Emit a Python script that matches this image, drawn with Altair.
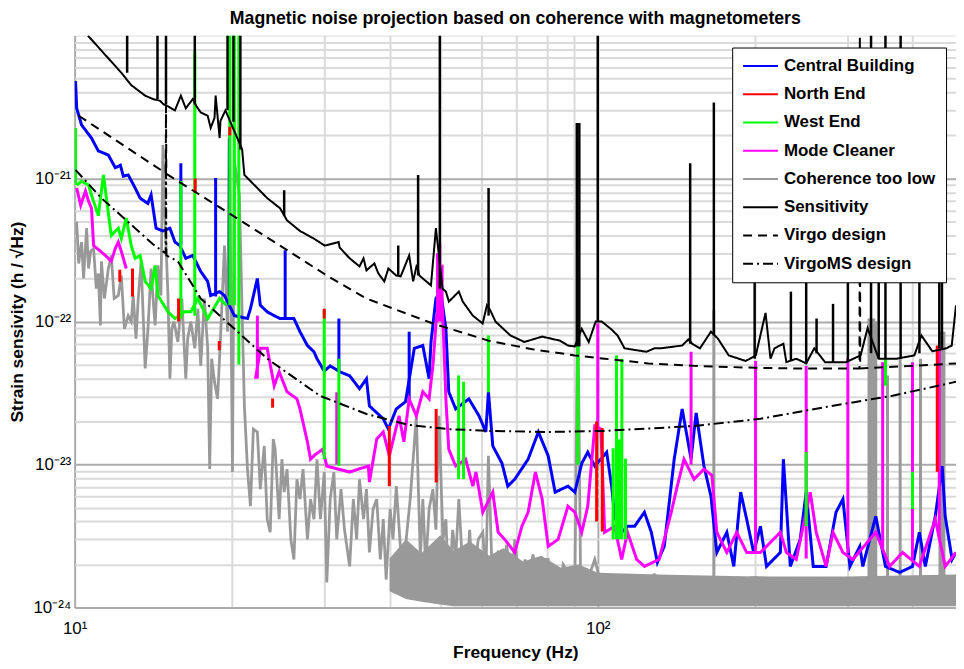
import altair as alt
import pandas as pd

FONT = "Liberation Sans"
SERIES = ["Central Building", "North End", "West End", "Mode Cleaner",
          "Coherence too low", "Sensitivity", "Virgo design", "VirgoMS design"]
COLORS = ["#0000ff", "#ff0000", "#00ff00", "#ff00ff",
          "#999999", "#000000", "#000000", "#000000"]
DASHES = [[1, 0], [1, 0], [1, 0], [1, 0], [1, 0], [1, 0], [9, 6], [10, 4, 2, 4]]

# ---------------- data (frequency Hz, strain 1/sqrt(Hz)); 1e-20 = top of the plot ----------------
sensitivity = [
    (10.6, 1.0e-20), (12.28, 5.5e-21), (12.83, 4.5e-21), (13.64, 3.8e-21),
    (14.12, 3.6e-21), (14.56, 3.5e-21), (14.8, 3.3e-21), (15.08, 3.2e-21), (15.55, 3.0e-21),
    (15.96, 3.8e-21), (16.31, 3.1e-21), (16.82, 3.6e-21), (17.1, 3.2e-21), (17.42, 2.9e-21),
    (17.96, 2.75e-21), (18.2, 2.26e-21), (18.51, 2.66e-21), (18.6, 3.8e-21), (18.93, 1.92e-21),
    (19.0, 2.53e-21), (19.42, 3.0e-21), (20.9, 1.6e-21), (21.11, 1.06e-21), (22.34, 8.6e-22),
    (23.34, 7.3e-22), (24.7, 6.2e-22), (25.47, 5.1e-22), (26.96, 4.3e-22), (28.67, 3.8e-22),
    (30.07, 3.4e-22), (31.97, 3.6e-22), (32.1, 3.3e-22), (33.55, 2.77e-22), (35.04, 2.43e-22),
    (35.66, 2.77e-22), (36.13, 2.28e-22), (37.41, 2.55e-22), (38.07, 2.17e-22), (39.08, 1.91e-22),
    (39.78, 2.35e-22), (41.19, 2.1e-22), (42.0, 2.07e-22), (43.6, 2.9e-22), (44.37, 1.91e-22),
    (45.1, 2.5e-22), (45.6, 2.1e-22), (47.99, 1.79e-22), (49.05, 4.5e-22), (50.5, 1.7e-22),
    (51.25, 1.62e-22), (51.93, 1.38e-22), (54.25, 1.62e-22), (55.2, 1.38e-22), (57.7, 1.1e-22),
    (60.25, 9.7e-23), (61.4, 1.3e-22), (62.3, 1.2e-22), (63.76, 1.0e-22), (68.08, 8.0e-23),
    (72.37, 7.2e-23), (78.31, 7.85e-23), (84.7, 7.35e-23), (87.7, 6.8e-23), (90.4, 6.7e-23),
    (93.2, 8.9e-23), (96.1, 7.2e-23), (99.1, 1.0e-22), (101.8, 1.0e-22), (105.9, 8.9e-23),
    (109.1, 8.0e-23), (112.5, 6.5e-23), (123.9, 6.15e-23), (128.3, 6.5e-23), (131.7, 6.5e-23),
    (145.0, 6.8e-23), (149.0, 7.5e-23), (151.5, 7.0e-23), (156.8, 6.5e-23), (164.6, 8.5e-23),
    (169.7, 7.6e-23), (178.0, 5.8e-23), (191.8, 5.3e-23), (200.5, 5.8e-23), (209.3, 1.15e-22),
    (213.9, 5.5e-23), (217.7, 6.5e-23), (226.4, 7.0e-23), (229.4, 5.2e-23), (239.6, 5.5e-23),
    (250.3, 5.1e-23), (259.3, 6.5e-23), (272.0, 5.2e-23), (298.2, 5.2e-23), (318.0, 5.8e-23),
    (328.0, 9.0e-23), (344.4, 5.5e-23), (372.4, 5.5e-23), (402.9, 5.8e-23), (415.6, 8.0e-23),
    (436.0, 6.2e-23), (463.5, 6.5e-23), (475.0, 6.8e-23), (484.0, 1.3e-22),
]
# spikes: (frequency, base, peak)
sensitivity_lines = [
    (12.6, 5.5e-21, 1e-20), (14.4, 3.6e-21, 1e-20), (14.95, 3.3e-21, 1e-20), (16.97, 3.3e-21, 1e-20),
    (19.6, 3.0e-21, 1e-20), (20.12, 2.5e-21, 1e-20), (20.74, 1.6e-21, 1e-20), (25.15, 5.5e-22, 8.3e-22),
    (41.55, 2.1e-22, 3.4e-22), (45.35, 2.1e-22, 1.06e-21), (49.9, 1.7e-22, 1e-20), (61.84, 1.1e-22, 8.6e-22),
    (91.2, 6.7e-23, 2.45e-21), (92.2, 6.7e-23, 2.45e-21), (100.0, 1.0e-22, 1e-20), (150.2, 7e-23, 1.28e-21),
    (166.7, 8e-23, 3.4e-21), (199.5, 5.5e-23, 3e-21), (234.0, 5.3e-23, 1.62e-22), (250.3, 5.1e-23, 4e-22),
    (262.0, 6e-23, 1.05e-22), (281.7, 5.2e-23, 1.33e-22), (300.7, 5.2e-23, 5e-22), (333.0, 6e-23, 1e-20),
    (344.4, 5.5e-23, 6e-22), (354.8, 5.5e-23, 1e-20), (379.3, 5.5e-23, 1e-20), (412.0, 6e-23, 5e-22),
    (449.7, 6.5e-23, 8e-22), (455.0, 6.5e-23, 3e-22),
]
virgo_design = [
    (10.18, 2.75e-21), (14.93, 1.09e-21), (14.95, 3.2e-21), (14.97, 1.08e-21), (20.74, 5.1e-22),
    (25.0, 3.3e-22), (30.34, 2.1e-22), (36.13, 1.45e-22), (40.0, 1.26e-22), (48.4, 9.7e-23),
    (61.84, 7.35e-23), (75.0, 6.4e-23), (90.4, 5.8e-23), (103.1, 5.5e-23), (125.0, 5.1e-23),
    (152.8, 4.9e-23), (200.0, 4.75e-23), (236.5, 4.7e-23), (316.5, 4.7e-23), (317.0, 1e-20),
    (317.5, 4.7e-23), (400.0, 4.9e-23), (484.0, 5.1e-23),
]
virgoms_design = [
    (10.04, 1.15e-21), (11.25, 7.3e-22), (13.05, 4.5e-22), (14.12, 3.47e-22), (14.93, 3.0e-22),
    (14.95, 1.5e-21), (14.97, 2.9e-22), (15.75, 2.64e-22), (17.42, 1.45e-22), (20.2, 8.9e-23),
    (23.34, 5.5e-23), (29.43, 3.03e-23), (36.13, 2.26e-23), (43.6, 1.89e-23), (51.93, 1.77e-23),
    (61.84, 1.72e-23), (80.4, 1.69e-23), (103.1, 1.72e-23), (152.8, 1.86e-23), (204.8, 2.09e-23),
    (273.0, 2.53e-23), (366.0, 3.03e-23), (484.0, 3.79e-23),
]
central_building = [
    (10.04, 4.8e-21), (10.09, 3.1e-21), (10.31, 2.37e-21), (10.77, 1.92e-21), (11.1, 1.56e-21),
    (11.6, 1.46e-21), (11.96, 1.19e-21), (12.23, 1.24e-21), (12.39, 1.04e-21), (12.66, 1.06e-21),
    (13.05, 8.6e-22), (13.34, 7.3e-22), (13.8, 6.7e-22), (14.0, 7.7e-22), (14.31, 4.5e-22),
    (14.75, 4.3e-22), (15.21, 4.5e-22), (15.55, 3.6e-22), (15.89, 3.4e-22), (16.31, 2.77e-22),
    (16.82, 2.9e-22), (17.42, 2.24e-22), (17.96, 1.91e-22), (18.2, 1.52e-22), (18.93, 1.62e-22),
    (19.34, 1.52e-22), (20.2, 1.1e-22), (21.4, 1.05e-22), (21.68, 1.23e-22), (22.35, 2.0e-22),
    (22.64, 1.3e-22), (23.34, 1.17e-22), (24.07, 1.1e-22), (24.7, 1.05e-22), (25.7, 1.05e-22),
    (26.25, 1.05e-22), (26.96, 8.5e-23), (27.86, 6.8e-23), (28.67, 6.15e-23), (29.06, 5.5e-23),
    (30.0, 4.5e-23), (30.8, 4.9e-23), (32.1, 4.46e-23), (33.55, 4.18e-23), (35.04, 3.39e-23),
    (36.13, 3.98e-23), (36.6, 2.57e-23), (38.9, 2.09e-23), (39.78, 1.77e-23), (41.2, 2.45e-23),
    (42.9, 2.75e-23), (44.6, 6.5e-23), (46.3, 6.8e-23), (47.6, 3.98e-23), (48.0, 7.2e-23),
    (49.05, 1.45e-22), (50.1, 1.62e-22), (51.25, 8.9e-23), (51.9, 3.23e-23), (53.5, 2.45e-23),
    (56.7, 2.88e-23), (59.3, 2.19e-23), (61.1, 1.69e-23), (61.8, 3.23e-23), (63.0, 1.35e-23),
    (65.6, 1.02e-23), (67.3, 7.06e-24), (69.4, 7.9e-24), (73.6, 1.09e-23), (77.0, 1.69e-23),
    (80.4, 1.15e-23), (82.9, 6.41e-24), (87.7, 7.06e-24), (90.4, 6.41e-24), (93.2, 1.02e-23),
    (95.7, 1.22e-23), (98.7, 9.76e-24), (104.0, 1.22e-23), (106.3, 7.06e-24), (107.7, 4.35e-24),
    (111.1, 3.36e-24), (114.0, 3.7e-24), (117.6, 3.7e-24), (122.8, 4.64e-24), (126.6, 3.36e-24),
    (130.0, 2.07e-24), (134.0, 2.68e-24), (140.0, 1.09e-23), (145.0, 2.45e-23), (150.8, 1.09e-23),
    (154.2, 2.3e-23), (159.6, 9.76e-24), (164.6, 6.0e-24), (168.9, 2.43e-24), (176.5, 3.36e-24),
    (182.0, 1.94e-24), (187.6, 6.41e-24), (192.6, 4.15e-24), (198.6, 2.43e-24), (204.7, 3.7e-24),
    (210.2, 1.94e-24), (223.4, 2.43e-24), (226.4, 1.09e-23), (233.4, 1.94e-24), (243.8, 3.0e-24),
    (250.3, 6.41e-24), (258.2, 1.94e-24), (273.2, 1.94e-24), (285.4, 4.64e-24), (294.2, 5.73e-24),
    (303.4, 1.94e-24), (317.0, 2.68e-24), (321.1, 1.94e-24), (340.0, 4.35e-24), (354.8, 1.94e-24),
    (377.6, 1.76e-24), (399.6, 1.94e-24), (411.9, 3.36e-24), (422.9, 1.94e-24), (441.8, 4.35e-24),
    (455.5, 9.76e-24), (461.5, 4.35e-24), (475.8, 2.17e-24), (484.0, 2.43e-24),
]
central_building_lines = [
    (15.96, 3.4e-22, 1.28e-21), (18.6, 1.5e-22, 1.01e-21), (19.76, 1.5e-22, 1.92e-21),
    (25.26, 1.05e-22, 3.15e-22), (32.0, 4.5e-23, 1.05e-22), (43.6, 2.75e-23, 8.5e-23),
]
mode_cleaner_low = [
    (10.09, 8.6e-22), (10.27, 6.5e-22), (10.49, 8.2e-22), (10.63, 6.95e-22), (10.77, 6.2e-22),
    (10.87, 3.4e-22), (11.45, 2.9e-22), (11.75, 2.64e-22), (11.96, 3.25e-22), (12.12, 3.6e-22),
    (12.28, 3.1e-22), (12.55, 2.35e-22),
]
mode_cleaner = [
    (22.16, 3.98e-23), (22.5, 5.5e-23), (22.64, 6.5e-23), (23.34, 6.5e-23), (24.07, 3.56e-23),
    (24.6, 4.46e-23), (25.47, 3.23e-23), (26.6, 2.88e-23), (26.96, 2.45e-23), (27.86, 1.44e-23),
    (28.25, 1.09e-23), (28.8, 1.17e-23), (29.8, 1.28e-23), (30.34, 9.76e-24), (33.55, 8.86e-24),
    (34.9, 9.3e-24), (36.44, 9.76e-24), (36.6, 7.54e-24), (37.8, 1.51e-23), (38.9, 1.69e-23),
    (39.95, 1.15e-23), (41.7, 2.19e-23), (42.6, 1.44e-23), (43.6, 2.88e-23), (45.0, 2.19e-23),
    (46.3, 3.23e-23), (47.6, 2.88e-23), (48.4, 4.9e-23), (49.2, 1.1e-22), (50.5, 1.2e-22),
    (51.25, 2.88e-23), (51.9, 1.28e-23), (53.5, 9.76e-24), (55.9, 1.09e-23), (57.7, 7.06e-24),
    (58.5, 8.86e-24), (60.3, 4.64e-24), (63.0, 6.41e-24), (64.5, 3.36e-24), (66.4, 3.0e-24),
    (69.4, 2.43e-24), (71.6, 3.7e-24), (73.6, 4.64e-24), (76.0, 8.86e-24), (78.3, 5.73e-24),
    (80.4, 2.68e-24), (84.0, 3.0e-24), (87.7, 5.11e-24), (90.4, 4.64e-24), (93.2, 3.36e-24),
    (95.7, 5.11e-24), (98.7, 1.86e-23), (101.4, 1.77e-23), (103.1, 3.36e-24), (107.7, 3.7e-24),
    (111.1, 2.17e-24), (114.0, 3.36e-24), (118.7, 2.17e-24), (122.8, 1.94e-24), (131.0, 2.17e-24),
    (138.2, 4.64e-24), (141.9, 7.06e-24), (146.2, 1.09e-23), (152.8, 7.9e-24), (159.6, 9.3e-24),
    (165.3, 8.4e-24), (168.9, 3.36e-24), (176.5, 2.43e-24), (184.4, 3.36e-24), (192.6, 2.43e-24),
    (204.7, 2.43e-24), (223.4, 3.36e-24), (229.4, 2.43e-24), (239.6, 2.17e-24), (254.8, 6.41e-24),
    (261.6, 3.36e-24), (273.2, 1.94e-24), (281.7, 3.36e-24), (294.2, 2.43e-24), (307.4, 2.17e-24),
    (340.0, 3.36e-24), (361.4, 1.94e-24), (382.5, 2.43e-24), (411.9, 1.94e-24), (441.8, 4.15e-24),
    (461.5, 1.94e-24), (484.0, 2.43e-24),
]
mode_cleaner_lines = [
    (22.35, 4e-23, 1.1e-22), (31.7, 1e-23, 3.2e-23), (49.4, 1e-22, 3e-22), (49.9, 1e-22, 3.5e-22),
    (50.4, 1e-22, 2.5e-22), (100.0, 1.8e-23, 9.7e-23), (150.8, 1.0e-23, 6.15e-23),
    (200.3, 2.5e-24, 5.3e-23), (250.3, 2.2e-24, 4.9e-23), (300.7, 2.4e-24, 5.5e-23),
    (350.5, 2.5e-24, 5.2e-23), (399.6, 2.2e-24, 5.2e-23), (449.6, 3.0e-24, 6.5e-23),
]
west_end = [
    (10.09, 9.0e-22), (10.31, 9.6e-22), (10.63, 9.0e-22), (10.77, 7.66e-22), (11.1, 5.5e-22),
    (11.35, 1.06e-21), (11.5, 7.3e-22), (11.75, 4.0e-22), (12.12, 4.5e-22), (12.28, 3.8e-22),
    (12.55, 5.3e-22), (12.83, 3.4e-22), (13.05, 2.77e-22), (13.34, 2.9e-22), (13.64, 1.91e-22),
    (14.0, 1.7e-22), (14.25, 2.47e-22), (14.43, 1.52e-22), (15.08, 1.17e-22), (15.55, 1.05e-22),
    (16.24, 1.17e-22), (16.67, 1.17e-22), (17.2, 1.45e-22), (17.96, 1.05e-22), (18.93, 1.45e-22),
    (19.5, 1.3e-22),
]
west_end_lines = [
    (10.04, 9.0e-22, 2.26e-21), (15.96, 1.05e-22, 9.6e-22), (16.97, 1.1e-22, 7.8e-21),
    (19.8, 1.3e-22, 1e-20), (20.2, 1.3e-22, 1e-20), (20.6, 5e-23, 1e-20),
    (30.0, 1.09e-23, 1.2e-22), (32.0, 9.8e-24, 5.5e-23), (54.2, 7.9e-24, 4.2e-23),
    (55.4, 7.9e-24, 3.8e-23), (61.8, 3.2e-23, 8e-23), (91.6, 1.0e-23, 2.9e-22),
    (107.0, 3e-24, 1.3e-23), (108.6, 3e-24, 5.8e-23), (110.0, 3e-24, 1.5e-23),
    (111.2, 3e-24, 5.5e-23), (113.0, 3e-24, 1.1e-23), (250.3, 3.7e-24, 1.22e-23),
    (354.8, 3.56e-23, 5.5e-23), (399.6, 4.9e-24, 8.9e-24),
]
north_end_lines = [
    (12.2, 1.9e-22, 2.3e-22), (12.9, 1.5e-22, 2.35e-22), (15.8, 1.0e-22, 1.45e-22),
    (17.0, 8e-22, 1.0e-21), (18.9, 6.3e-23, 7.3e-23), (19.8, 2.0e-21, 2.3e-21),
    (23.9, 2.5e-23, 2.9e-23), (30.0, 1.05e-22, 1.23e-22), (39.95, 7.06e-24, 1.86e-23),
    (49.1, 7.5e-24, 2.45e-23), (99.5, 4e-24, 2e-23), (102.0, 3.4e-24, 1.8e-23),
    (445.7, 8.9e-24, 6.8e-23),
]
coherence_low = [
    (10.09, 5.0e-22), (10.18, 2.55e-22), (10.31, 3.6e-22), (10.4, 2.0e-22), (10.54, 4.5e-22),
    (10.63, 2.35e-22), (10.73, 3.1e-22), (10.87, 3.25e-22), (11.0, 1.7e-22), (11.1, 2.17e-22),
    (11.2, 9.4e-23), (11.25, 2.64e-22), (11.4, 1.45e-22), (11.6, 2.35e-22), (11.75, 2.9e-22),
    (11.9, 1.45e-22), (12.12, 1.52e-22), (12.28, 2.1e-22), (12.45, 8.9e-23), (12.66, 1.1e-22),
    (12.83, 1.0e-22), (12.94, 1.52e-22), (13.1, 7.6e-23), (13.23, 1.45e-22), (13.4, 2.64e-22),
    (13.64, 4.7e-23), (13.8, 8.5e-23), (14.0, 2.35e-22), (14.12, 1.45e-22), (14.25, 9.4e-23),
    (14.43, 2.47e-22), (14.62, 1.52e-22), (14.75, 1.72e-21), (14.88, 5.3e-22), (15.08, 1.52e-22),
    (15.21, 3.98e-23), (15.34, 8.9e-23), (15.48, 1.0e-22), (15.75, 7.2e-23), (16.03, 1.45e-22),
    (16.31, 3.98e-23), (16.45, 7.6e-23), (16.67, 1.0e-22), (16.97, 6.5e-23), (17.2, 1.23e-22),
    (17.42, 4.9e-23), (17.7, 1.45e-22), (17.96, 6.5e-23), (18.12, 9.3e-24), (18.28, 5.5e-23),
    (18.51, 3.79e-23), (18.76, 2.88e-23), (19.0, 7.6e-23), (19.34, 3.4e-22), (19.6, 8.5e-23),
    (19.76, 2.26e-21), (20.03, 8.86e-24), (20.2, 1.33e-21), (20.65, 7.66e-22), (20.92, 1.0e-22),
    (21.11, 2.57e-23), (21.4, 9.3e-24), (21.68, 5.11e-24), (21.96, 1.77e-23), (22.35, 1.69e-23),
    (22.64, 6.73e-24), (23.04, 1.35e-23), (23.34, 4.15e-24), (23.65, 3.36e-24), (23.97, 1.51e-23),
    (24.17, 1.28e-23), (24.6, 4.15e-24), (24.9, 1.09e-23), (25.15, 6.41e-24), (25.47, 9.3e-24),
    (25.9, 3.0e-24), (26.25, 2.17e-24), (26.6, 7.9e-24), (26.96, 5.73e-24), (27.33, 9.3e-24),
    (27.86, 3.0e-24), (28.25, 5.73e-24), (28.67, 4.15e-24), (29.06, 1.09e-23), (29.5, 4.15e-24),
    (30.0, 8.86e-24), (30.34, 1.5e-24), (30.8, 5.73e-24), (31.3, 8.86e-24), (31.7, 3.0e-24),
    (32.3, 6.73e-24), (32.8, 3.5e-24), (33.55, 1.94e-24), (34.1, 5.73e-24), (34.6, 3.0e-24),
    (35.04, 7.9e-24), (35.66, 4.15e-24), (36.13, 6.73e-24), (36.6, 2.43e-24), (37.2, 4.9e-24),
    (37.8, 5.73e-24), (38.4, 2.17e-24), (38.9, 4.15e-24), (39.4, 1.57e-24), (40.1, 4.9e-24),
    (40.6, 3.0e-24), (41.2, 7.06e-24), (42.1, 2.17e-24), (42.9, 2.68e-24), (43.8, 5.73e-24),
    (45.0, 2.19e-23), (45.8, 2.17e-24), (46.3, 5.73e-24), (46.9, 1.94e-24), (47.6, 4.9e-24),
    (48.4, 6.73e-24), (49.05, 3.5e-24), (49.7, 2.19e-23), (50.6, 3.0e-24), (51.25, 4.15e-24),
    (51.9, 1.27e-24), (52.8, 3.5e-24), (53.5, 2.17e-24), (54.25, 5.73e-24), (55.2, 1.85e-24),
    (55.9, 1.14e-24), (56.9, 3.5e-24), (57.7, 1.4e-24), (59.1, 3.0e-24), (60.3, 3.36e-24),
    (61.1, 1.57e-24), (61.8, 1.15e-23), (62.7, 2.17e-24), (63.8, 1.05e-24), (64.5, 2.5e-24),
    (65.6, 1.76e-24), (67.0, 2.75e-24), (68.3, 1.33e-24), (69.4, 3.0e-24), (70.6, 1.7e-24),
    (71.6, 1.05e-24), (72.6, 2.17e-24), (73.6, 1.5e-24), (75.2, 2.35e-24), (77.0, 1.33e-24),
    (78.7, 2.17e-24), (80.4, 2.17e-24), (82.2, 1.33e-24), (84.0, 1.14e-24), (85.9, 2.0e-24),
    (87.7, 1.76e-24), (89.6, 1.35e-24), (90.4, 1.35e-24), (91.6, 1.45e-22), (92.8, 1.14e-24),
    (98.7, 2.17e-24), (103.1, 1.14e-24), (107.7, 1.65e-24), (117.6, 1.35e-24), (128.3, 1.7e-24),
    (140.0, 1.35e-24), (152.8, 1.62e-24), (164.6, 1.5e-24), (168.9, 1.5e-24), (198.6, 1.62e-24),
    (236.5, 1.57e-24), (300.0, 1.6e-24), (400.0, 1.6e-24), (484.0, 1.6e-24),
]
coherence_low_lines = [
    (166.7, 1.6e-24, 1.2e-22), (330.0, 1.6e-24, 1.05e-22), (333.5, 1.6e-24, 1.05e-22),
    (337.0, 1.6e-24, 1.05e-22), (340.0, 1.6e-24, 1.0e-22), (358.0, 1.6e-24, 4.2e-23),
    (378.5, 1.6e-24, 5.5e-23), (414.0, 1.6e-24, 5.5e-23), (451.0, 1.6e-24, 8.5e-23),
    (455.0, 1.6e-24, 8.5e-23), (459.0, 1.6e-24, 8.5e-23),
]
# dense low-coherence floor: (frequency, lower edge, upper edge)
coherence_floor = [
    (40.0, 1.3e-24, 2.2e-24), (43.0, 1.15e-24, 3.0e-24), (46.0, 1.1e-24, 2.4e-24),
    (50.0, 1.05e-24, 3.2e-24), (53.0, 1.02e-24, 2.5e-24), (57.0, 1.02e-24, 2.9e-24),
    (62.0, 1.02e-24, 2.3e-24), (66.0, 1.02e-24, 2.6e-24), (72.0, 1.02e-24, 2.1e-24),
    (78.0, 1.02e-24, 2.3e-24), (85.0, 1.02e-24, 1.9e-24), (92.0, 1.02e-24, 2.0e-24),
    (100.0, 1.02e-24, 1.75e-24), (130.0, 1.02e-24, 1.7e-24), (200.0, 1.02e-24, 1.65e-24),
    (300.0, 1.02e-24, 1.65e-24), (484.0, 1.02e-24, 1.7e-24),
]

X_TICKS = [10, 20, 30, 40, 50, 60, 70, 80, 90, 100, 200, 300, 400]
Y_TICKS = [m * 10.0 ** e for e in (-24, -23, -22, -21) for m in range(1, 10)]


def line_df(name, pts, seg):
    return pd.DataFrame({"series": name, "seg": seg, "i": list(range(len(pts))),
                         "f": [p[0] for p in pts], "v": [p[1] for p in pts]})


def rule_df(name, spikes):
    return pd.DataFrame({"series": name, "f": [s[0] for s in spikes],
                         "v": [s[1] for s in spikes], "v2": [s[2] for s in spikes]})


MAJOR = "abs(log(datum.value)/LN10 - round(log(datum.value)/LN10)) < 0.001"

x_axis = alt.Axis(values=X_TICKS,
                  labelExpr="datum.value == 10 ? '10¹' : (datum.value == 100 ? '10²' : '')",
                  grid=True, gridWidth=2,
                  gridColor={"condition": {"test": MAJOR, "value": "#ababab"}, "value": "#dadada"},
                  ticks=False, domain=False, labelFont=FONT, labelFontSize=17, labelColor="black",
                  labelPadding=13, titleFont=FONT, titleFontSize=17.5, titleFontWeight="bold",
                  titleColor="black", titlePadding=7, labelFlush=False, labelOverlap=False)
y_axis = alt.Axis(values=Y_TICKS,
                  labelExpr=("abs(datum.value/1e-24-1)<1e-6 ? '10⁻²⁴' : "
                             "(abs(datum.value/1e-23-1)<1e-6 ? '10⁻²³' : "
                             "(abs(datum.value/1e-22-1)<1e-6 ? '10⁻²²' : "
                             "(abs(datum.value/1e-21-1)<1e-6 ? '10⁻²¹' : '')))"),
                  grid=True, gridWidth=2,
                  gridColor={"condition": {"test": MAJOR, "value": "#ababab"}, "value": "#dadada"},
                  ticks=False, domain=False, labelFont=FONT, labelFontSize=17, labelColor="black",
                  labelPadding=4, titleFont=FONT, titleFontSize=17.5, titleFontWeight="bold",
                  titleColor="black", titlePadding=7, labelFlush=False, labelOverlap=False)

XS = alt.Scale(type="log", domain=[10, 484], nice=False)
YS = alt.Scale(type="log", domain=[1e-24, 1e-20], nice=False)
X = alt.X("f:Q", scale=XS, axis=x_axis, title="Frequency (Hz)")
Y = alt.Y("v:Q", scale=YS, axis=y_axis, title="Strain sensivity (h / √Hz)")

legend = alt.Legend(title=None, orient="none", legendX=661, legendY=12,
                    symbolType="stroke", symbolSize=1225, symbolStrokeWidth=2,
                    labelFont=FONT, labelFontSize=17, labelFontWeight="bold", labelColor="black",
                    labelOffset=5, clipHeight=17, rowPadding=10.4, padding=10, fillColor="white",
                    strokeColor="black", cornerRadius=0)
COLOR = alt.Color("series:N", scale=alt.Scale(domain=SERIES, range=COLORS), legend=legend)
DASH = alt.StrokeDash("series:N", scale=alt.Scale(domain=SERIES, range=DASHES), legend=legend)


def line_layer(df, width):
    return alt.Chart(df).mark_line(strokeWidth=width, clip=True, strokeJoin="miter").encode(
        x=X, y=Y, color=COLOR, strokeDash=DASH, detail="seg:N", order="i:Q")


def rule_layer(df, width):
    return alt.Chart(df).mark_rule(strokeWidth=width, clip=True).encode(
        x=X, y=Y, y2="v2:Q", color=COLOR)


floor_df = pd.DataFrame({"f": [p[0] for p in coherence_floor],
                         "v": [p[1] for p in coherence_floor],
                         "v2": [p[2] for p in coherence_floor]})
floor = alt.Chart(floor_df).mark_area(color="#999999", clip=True).encode(x=X, y=Y, y2="v2:Q")

layers = [
    floor,
    line_layer(line_df("Coherence too low", coherence_low, "g0"), 2.8),
    rule_layer(rule_df("Coherence too low", coherence_low_lines), 3),
    line_layer(line_df("Central Building", central_building, "b0"), 3),
    rule_layer(rule_df("Central Building", central_building_lines), 3),
    line_layer(pd.concat([line_df("Mode Cleaner", mode_cleaner_low, "m0"),
                          line_df("Mode Cleaner", mode_cleaner, "m1")]), 3),
    rule_layer(rule_df("Mode Cleaner", mode_cleaner_lines), 3),
    line_layer(line_df("West End", west_end, "w0"), 3),
    rule_layer(rule_df("West End", west_end_lines), 3),
    rule_layer(rule_df("North End", north_end_lines), 3),
    line_layer(line_df("Virgo design", virgo_design, "d0"), 2),
    line_layer(line_df("VirgoMS design", virgoms_design, "d1"), 2),
    line_layer(line_df("Sensitivity", sensitivity, "s0"), 2),
    rule_layer(rule_df("Sensitivity", sensitivity_lines), 2.5),
]

chart = alt.layer(*layers).properties(
    width=886, height=575,
    padding={"left": 0, "top": 0, "right": 0, "bottom": 0},
    title=alt.TitleParams(text="Magnetic noise projection based on coherence with magnetometers",
                          font=FONT, fontSize=17.8, fontWeight="bold", color="black",
                          anchor="middle", offset=5),
).configure_view(stroke="black", strokeWidth=2).configure_legend(
    strokeWidth=1.5).configure(background="white")

chart.save("out.html", embed_options={"renderer": "svg", "actions": False})
